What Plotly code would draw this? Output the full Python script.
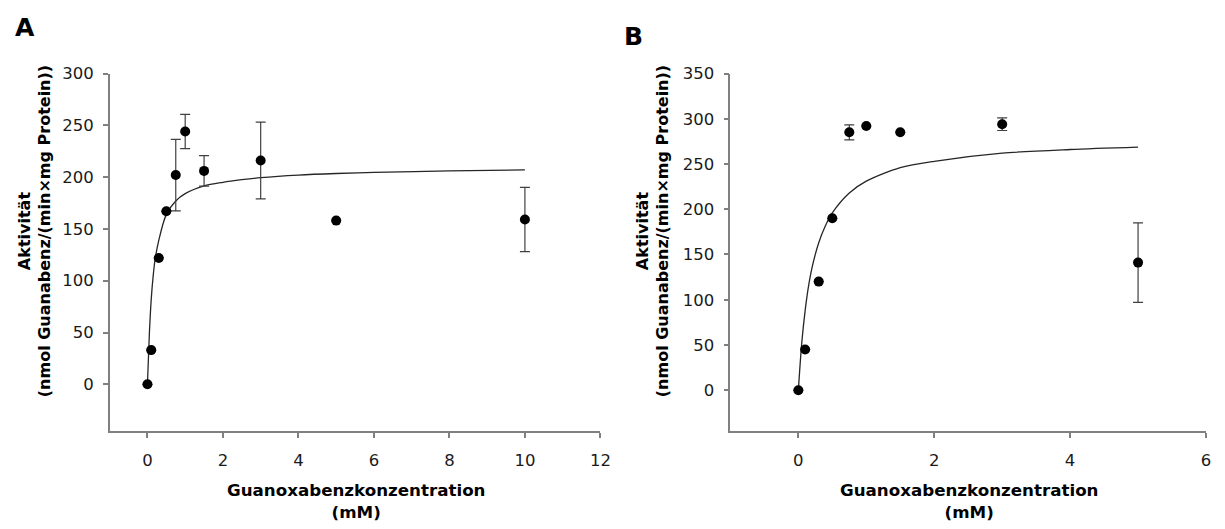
import plotly.graph_objects as go

# ---- Data: Panel A ----
conc_a = [0, 0.1, 0.3, 0.5, 0.75, 1.0, 1.5, 3.0, 5.0, 10.0]
act_a = [0, 33, 122, 167, 202, 244, 206, 216, 158, 159]
err_a = [0, 0, 0, 0, 34.5, 16.5, 14.8, 37, 0, 31]
fit_x_a = [0, 0.05, 0.1, 0.15, 0.2, 0.3, 0.5, 0.75, 1.0, 1.5, 2.0, 2.5, 3.0, 4.0, 5.0, 6.0, 8.0, 10.0]
fit_y_a = [0, 48, 82, 104, 120, 139, 164, 177, 184, 191.5, 195, 197.5, 199.5, 202, 203.5, 204.5, 206, 207]

# ---- Data: Panel B ----
conc_b = [0, 0.1, 0.3, 0.5, 0.75, 1.0, 1.5, 3.0, 5.0]
act_b = [0, 45, 120, 190, 285, 292, 285, 294, 141]
err_b = [0, 0, 0, 0, 8.3, 0, 0, 7, 44]
fit_x_b = [0, 0.05, 0.1, 0.15, 0.2, 0.3, 0.4, 0.5, 0.75, 1.0, 1.5, 2.0, 3.0, 4.0, 5.0]
fit_y_b = [0, 52, 88, 115, 135, 163, 182, 196, 218, 231, 246, 253, 262, 266, 268.6]

xticks_a = [0, 2, 4, 6, 8, 10, 12]
yticks_a = [0, 50, 100, 150, 200, 250, 300]
xticks_b = [0, 2, 4, 6]
yticks_b = [0, 50, 100, 150, 200, 250, 300, 350]

FONT = "DejaVu Sans"
AXC = "#808080"

# mapping from target screen pixels to paper fractions (calibrated for the viewer)
OX, OY, DW, DH = 7.6, 17.6, 1198.0, 503.0
def px(X):
    return min(1.0, max(0.0, (X - OX) / DW))
def py(Y):
    return min(1.0, max(0.0, 1 - (Y - OY) / DH))

fig = go.Figure()

def add_panel(xa, ya, cx, cy, ce, fx, fy):
    fig.add_trace(go.Scatter(x=fx, y=fy, mode="lines",
                             line=dict(color="#262626", width=1.3, shape="spline", smoothing=0.8),
                             xaxis=xa, yaxis=ya, hoverinfo="skip", showlegend=False))
    fig.add_trace(go.Scatter(x=cx, y=cy, mode="markers",
                             marker=dict(color="black", size=10),
                             error_y=dict(type="data", array=ce, visible=True, color="#404040", thickness=1.2, width=5),
                             xaxis=xa, yaxis=ya, showlegend=False))

add_panel("x", "y", conc_a, act_a, err_a, fit_x_a, fit_y_a)
add_panel("x2", "y2", conc_b, act_b, err_b, fit_x_b, fit_y_b)

common_x = dict(showline=True, linecolor=AXC, linewidth=1.5, ticks="outside", tickcolor=AXC, ticklen=5, tickwidth=1.5,
                showgrid=False, zeroline=False, tickfont=dict(family=FONT, size=16.5, color="#1a1a1a"),
                ticklabelstandoff=9)
common_y = dict(showline=True, linecolor=AXC, linewidth=1.5, ticks="outside", tickcolor=AXC, ticklen=5, tickwidth=1.5,
                showgrid=False, zeroline=False, tickfont=dict(family=FONT, size=16.5, color="#1a1a1a"),
                ticklabelstandoff=6)

ydom = [py(430.7), py(74)]
fig.update_layout(
    autosize=True,
    margin=dict(l=0, r=0, t=0, b=0),
    paper_bgcolor="white", plot_bgcolor="white",
    xaxis=dict(domain=[px(109.3), px(600)], range=[-1, 12], tickvals=xticks_a, anchor="y", **common_x),
    yaxis=dict(domain=ydom, range=[-45, 300], tickvals=yticks_a, anchor="x", **common_y),
    xaxis2=dict(domain=[px(730), px(1209.3)], range=[-1, 6], tickvals=xticks_b, anchor="y2", **common_x),
    yaxis2=dict(domain=ydom, range=[-45, 350], tickvals=yticks_b, anchor="x2", **common_y),
)

xtitle_font = dict(family=FONT, size=16.7, color="black")
ytitle_font = dict(family=FONT, size=16, color="black")
xtitle = "<b>Guanoxabenzkonzentration<br>(mM)</b>"
ytitle = "<b>Aktivität<br>(nmol Guanabenz/(min×mg Protein))</b>"

anns = [
    dict(text="<b>A</b>", x=px(25), y=py(28), font=dict(family=FONT, size=25, color="black")),
    dict(text="<b>B</b>", x=px(633), y=py(37), font=dict(family=FONT, size=25, color="black")),
    dict(text=xtitle, x=px(356), y=py(500.5), font=xtitle_font),
    dict(text=xtitle, x=px(969), y=py(500.5), font=xtitle_font),
    dict(text=ytitle, x=px(34), y=py(231), textangle=-90, font=ytitle_font),
    dict(text=ytitle, x=px(652), y=py(231), textangle=-90, font=ytitle_font),
]
for a in anns:
    fig.add_annotation(xref="paper", yref="paper", showarrow=False, xanchor="center", yanchor="middle", **a)

fig.write_html("out.html")
